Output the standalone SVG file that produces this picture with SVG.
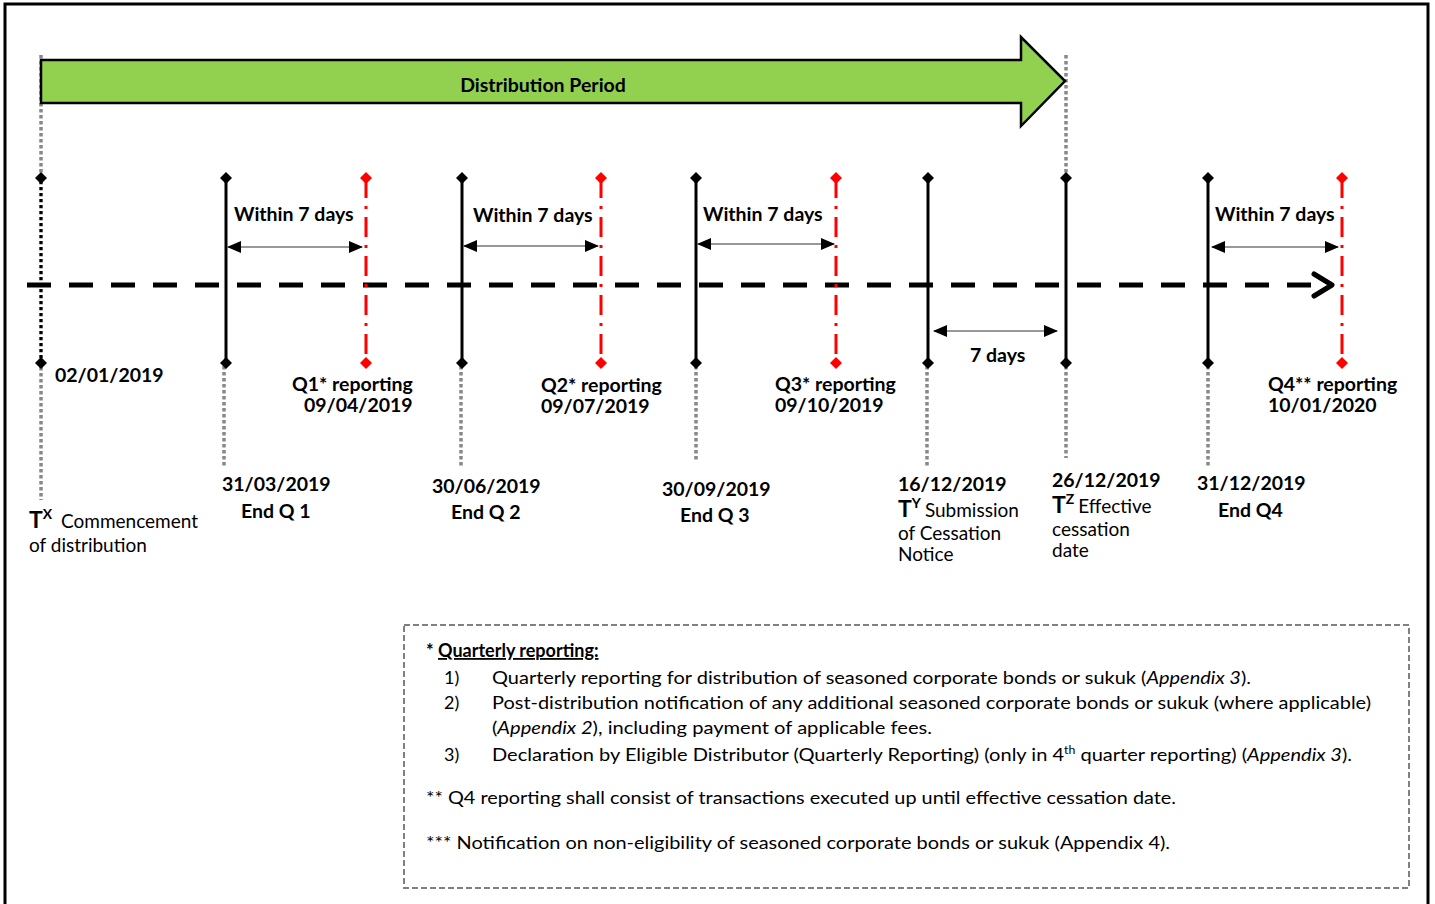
<svg xmlns="http://www.w3.org/2000/svg" width="1435" height="904" viewBox="0 0 1435 904">
<defs>
<style>
text{font-family:Lato,"Open Sans","Liberation Sans",sans-serif;fill:#000}
.b{font-weight:bold;font-size:19.5px}
.r{font-size:19px}
.n{font-size:18px}
.blk{stroke:#000;stroke-width:3;fill:none}
.red{stroke:#ff0000;stroke-width:3;fill:none;stroke-dasharray:20 8 3 8}
.gd{stroke:#888;stroke-width:3.5;fill:none;stroke-dasharray:3.5 2.5}
.dim{stroke:#333;stroke-width:1.2;fill:none;marker-start:url(#ah);marker-end:url(#ah)}
</style>
<marker id="ah" viewBox="0 0 14 12" refX="13" refY="6" markerWidth="14" markerHeight="12" markerUnits="userSpaceOnUse" orient="auto-start-reverse">
<path d="M0,0 L14,6 L0,12 Z" fill="#000"/>
</marker>
<path id="dk" d="M0,-6 L6,0 L0,6 L-6,0 Z" fill="#000"/>
<path id="dr" d="M0,-6 L6,0 L0,6 L-6,0 Z" fill="#ff0000"/>
</defs>
<rect x="5" y="4" width="1423" height="930" fill="#fff" stroke="#000" stroke-width="3"/>

<g id="period">
<line class="gd" x1="41" y1="55" x2="41" y2="500"/>
<line class="gd" x1="1066" y1="55" x2="1066" y2="178"/>
<path d="M41,60 L1021,60 L1021,37 L1065,81 L1021,126 L1021,103 L41,103 Z" fill="#92d050" stroke="#000" stroke-width="2.5"/>
<text class="b" x="543" y="92" text-anchor="middle">Distribution Period</text>
</g>

<g id="connectors">
<line x1="27" y1="285" x2="1320" y2="285" stroke="#000" stroke-width="5" stroke-dasharray="24 18"/>
<path d="M1314,274 L1332,285 L1314,296" fill="none" stroke="#000" stroke-width="5" stroke-linecap="round" stroke-linejoin="round"/>
<line class="dim" x1="228" y1="247" x2="362" y2="247"/>
<line class="dim" x1="464" y1="246" x2="598" y2="246"/>
<line class="dim" x1="698" y1="244" x2="834" y2="244"/>
<line class="dim" x1="1212" y1="247" x2="1338" y2="247"/>
<line class="dim" x1="934" y1="331" x2="1057" y2="331"/>
<line class="gd" x1="224" y1="366" x2="224" y2="466"/>
<line class="gd" x1="461" y1="366" x2="461" y2="468"/>
<line class="gd" x1="696" y1="366" x2="696" y2="462"/>
<line class="gd" x1="927" y1="366" x2="927" y2="468"/>
<line class="gd" x1="1066" y1="366" x2="1066" y2="458"/>
<line class="gd" x1="1208" y1="366" x2="1208" y2="466"/>
</g>

<g id="m-start">
<line x1="41" y1="178" x2="41" y2="363" stroke="#000" stroke-width="3" stroke-dasharray="3 3" stroke-dashoffset="3"/>
<use href="#dk" x="41" y="178"/><use href="#dk" x="41" y="363"/>
<text class="b" x="55" y="382">02/01/2019</text>
<text x="29" y="528"><tspan font-weight="bold" font-size="23px">T</tspan><tspan font-weight="bold" font-size="14px" dy="-9">X</tspan><tspan class="r" x="61" dy="9">Commencement</tspan></text>
<text class="r" x="29" y="552">of distribution</text>
</g>

<g id="m-q1">
<line class="blk" x1="226" y1="178" x2="226" y2="363"/>
<use href="#dk" x="226" y="178"/><use href="#dk" x="226" y="363"/>
<text class="b" x="234" y="221">Within 7 days</text>
<text class="b" x="222" y="491">31/03/2019</text>
<text class="b" x="241" y="518">End Q 1</text>
</g>
<g id="r-q1">
<line class="red" x1="366" y1="178" x2="366" y2="363"/>
<use href="#dr" x="366" y="178"/><use href="#dr" x="366" y="363"/>
<text class="b" x="292" y="391">Q1* reporting</text>
<text class="b" x="304" y="412">09/04/2019</text>
</g>

<g id="m-q2">
<line class="blk" x1="462" y1="178" x2="462" y2="363"/>
<use href="#dk" x="462" y="178"/><use href="#dk" x="462" y="363"/>
<text class="b" x="473" y="222">Within 7 days</text>
<text class="b" x="432" y="493">30/06/2019</text>
<text class="b" x="451" y="519">End Q 2</text>
</g>
<g id="r-q2">
<line class="red" x1="601" y1="178" x2="601" y2="363"/>
<use href="#dr" x="601" y="178"/><use href="#dr" x="601" y="363"/>
<text class="b" x="541" y="392">Q2* reporting</text>
<text class="b" x="541" y="413">09/07/2019</text>
</g>

<g id="m-q3">
<line class="blk" x1="696" y1="178" x2="696" y2="363"/>
<use href="#dk" x="696" y="178"/><use href="#dk" x="696" y="363"/>
<text class="b" x="703" y="221">Within 7 days</text>
<text class="b" x="662" y="496">30/09/2019</text>
<text class="b" x="680" y="522">End Q 3</text>
</g>
<g id="r-q3">
<line class="red" x1="836" y1="178" x2="836" y2="363"/>
<use href="#dr" x="836" y="178"/><use href="#dr" x="836" y="363"/>
<text class="b" x="775" y="391">Q3* reporting</text>
<text class="b" x="775" y="412">09/10/2019</text>
</g>

<g id="m-ty">
<line class="blk" x1="928" y1="178" x2="928" y2="363"/>
<use href="#dk" x="928" y="178"/><use href="#dk" x="928" y="363"/>
<text class="b" x="970" y="362">7 days</text>
<text class="b" x="898" y="491">16/12/2019</text>
<text x="898" y="517"><tspan font-weight="bold" font-size="23px">T</tspan><tspan font-weight="bold" font-size="14px" dy="-9">Y</tspan><tspan class="r" dx="4" dy="9">Submission</tspan></text>
<text class="r" x="898" y="540">of Cessation</text>
<text class="r" x="898" y="561">Notice</text>
</g>

<g id="m-tz">
<line class="blk" x1="1066" y1="178" x2="1066" y2="363"/>
<use href="#dk" x="1066" y="178"/><use href="#dk" x="1066" y="363"/>
<text class="b" x="1052" y="487">26/12/2019</text>
<text x="1052" y="513"><tspan font-weight="bold" font-size="23px">T</tspan><tspan font-weight="bold" font-size="14px" dy="-9">Z</tspan><tspan class="r" dx="4" dy="9">Effective</tspan></text>
<text class="r" x="1052" y="536">cessation</text>
<text class="r" x="1052" y="557">date</text>
</g>

<g id="m-q4">
<line class="blk" x1="1208" y1="178" x2="1208" y2="363"/>
<use href="#dk" x="1208" y="178"/><use href="#dk" x="1208" y="363"/>
<text class="b" x="1215" y="221">Within 7 days</text>
<text class="b" x="1197" y="490">31/12/2019</text>
<text class="b" x="1218" y="517">End Q4</text>
</g>
<g id="r-q4">
<line class="red" x1="1342" y1="178" x2="1342" y2="363"/>
<use href="#dr" x="1342" y="178"/><use href="#dr" x="1342" y="363"/>
<text class="b" x="1268" y="391">Q4** reporting</text>
<text class="b" x="1268" y="412">10/01/2020</text>
</g>

<g id="notes">
<rect x="404" y="625" width="1005" height="263" fill="none" stroke="#808080" stroke-width="2" stroke-dasharray="6 3"/>
<text class="n" x="426" y="657" font-weight="bold">* <tspan text-decoration="underline">Quarterly reporting:</tspan></text>
<text class="n" x="444" y="684">1)</text>
<text class="n" x="492" y="684" textLength="759" lengthAdjust="spacingAndGlyphs">Quarterly reporting for distribution of seasoned corporate bonds or sukuk (<tspan font-style="italic">Appendix 3</tspan>).</text>
<text class="n" x="444" y="709">2)</text>
<text class="n" x="492" y="709" textLength="879" lengthAdjust="spacingAndGlyphs">Post-distribution notification of any additional seasoned corporate bonds or sukuk (where applicable)</text>
<text class="n" x="492" y="734" textLength="440" lengthAdjust="spacingAndGlyphs">(<tspan font-style="italic">Appendix 2</tspan>), including payment of applicable fees.</text>
<text class="n" x="444" y="761">3)</text>
<text class="n" x="492" y="761" textLength="860" lengthAdjust="spacingAndGlyphs">Declaration by Eligible Distributor (Quarterly Reporting) (only in 4<tspan font-size="11px" dy="-7">th</tspan><tspan dy="7"> quarter reporting) (</tspan><tspan font-style="italic">Appendix 3</tspan>).</text>
<text class="n" x="426" y="804" textLength="750" lengthAdjust="spacingAndGlyphs">** Q4 reporting shall consist of transactions executed up until effective cessation date.</text>
<text class="n" x="426" y="849" textLength="744" lengthAdjust="spacingAndGlyphs">*** Notification on non-eligibility of seasoned corporate bonds or sukuk (Appendix 4).</text>
</g>
</svg>
